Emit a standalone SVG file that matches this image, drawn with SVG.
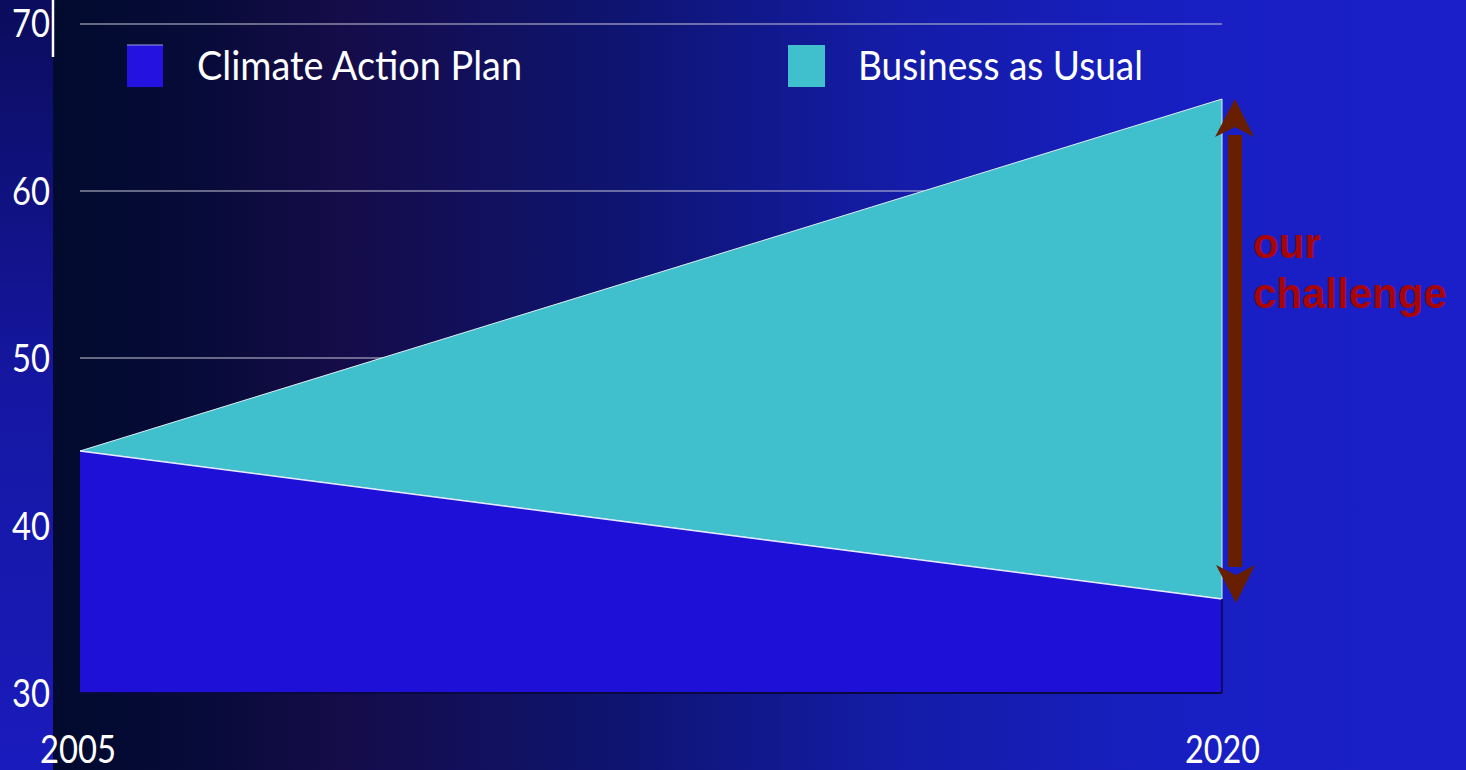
<svg xmlns="http://www.w3.org/2000/svg" width="1466" height="770" viewBox="0 0 1466 770">
<defs>
<linearGradient id="bg" x1="53" y1="0" x2="1466" y2="0" gradientUnits="userSpaceOnUse">
<stop offset="0" stop-color="#020a2e"/>
<stop offset="0.1" stop-color="#060b38"/>
<stop offset="0.2" stop-color="#150c48"/>
<stop offset="0.4" stop-color="#0e1470"/>
<stop offset="0.6" stop-color="#141ca8"/>
<stop offset="0.8" stop-color="#181fc2"/>
<stop offset="1" stop-color="#1b1fc9"/>
</linearGradient>
<linearGradient id="strip" x1="0" y1="0" x2="0" y2="770" gradientUnits="userSpaceOnUse">
<stop offset="0" stop-color="#0b0c5c"/>
<stop offset="0.5" stop-color="#1517a2"/>
<stop offset="1" stop-color="#1a1bbc"/>
</linearGradient>
<style>
.ax{font-family:Lato,"Open Sans",sans-serif;font-size:38px;fill:#ffffff}
.lg{font-family:Lato,"Open Sans",sans-serif;font-size:40px;fill:#ffffff}
.ch{font-family:"Liberation Sans",Arial,sans-serif;font-size:42px;font-weight:bold;fill:#a80606}
.grid{stroke:#c8c8d8;stroke-width:1}
</style>
</defs>
<rect x="0" y="0" width="1466" height="770" fill="url(#bg)"/>
<rect x="0" y="0" width="53" height="770" fill="url(#strip)"/>
<line x1="53" y1="0" x2="53" y2="57" stroke="#ffffff" stroke-width="2.5"/>
<g id="grid">
<line class="grid" x1="80" y1="24" x2="1222" y2="24"/>
<line class="grid" x1="80" y1="191" x2="1222" y2="191"/>
<line class="grid" x1="80" y1="358" x2="1222" y2="358"/>
</g>
<g id="area-bau">
<polygon points="80,451 1222,99 1222,599" fill="#40bfcc" stroke="#dfeff0" stroke-width="1"/>
</g>
<g id="area-cap">
<polygon points="80,451 1222,599 1222,693 80,693" fill="#1e10d6"/>
<line x1="80" y1="451" x2="1222" y2="599" stroke="#e8e8ff" stroke-width="1.5"/>
<line x1="80" y1="693" x2="1222" y2="693" stroke="#0a0840" stroke-width="2"/>
<line x1="1222" y1="599" x2="1222" y2="693" stroke="#0a0840" stroke-width="1.5"/>
</g>
<g id="y-axis">
<text class="ax" x="12" y="37" textLength="38" lengthAdjust="spacingAndGlyphs">70</text>
<text class="ax" x="12" y="205" textLength="38" lengthAdjust="spacingAndGlyphs">60</text>
<text class="ax" x="12" y="372" textLength="38" lengthAdjust="spacingAndGlyphs">50</text>
<text class="ax" x="12" y="540" textLength="38" lengthAdjust="spacingAndGlyphs">40</text>
<text class="ax" x="12" y="707" textLength="38" lengthAdjust="spacingAndGlyphs">30</text>
</g>
<g id="x-axis">
<text class="ax" x="40" y="763" textLength="76" lengthAdjust="spacingAndGlyphs">2005</text>
<text class="ax" x="1185" y="763" textLength="75" lengthAdjust="spacingAndGlyphs">2020</text>
</g>
<g id="legend">
<rect x="127" y="45" width="36" height="42" fill="#2412e0"/>
<line x1="127" y1="45" x2="163" y2="45" stroke="#9aa0e0" stroke-width="1"/>
<text class="lg" x="197" y="80" textLength="325" lengthAdjust="spacingAndGlyphs">Climate Action Plan</text>
<rect x="788" y="45" width="37" height="42" fill="#40bfcc"/>
<text class="lg" x="858" y="80" textLength="285" lengthAdjust="spacingAndGlyphs">Business as Usual</text>
</g>
<g id="connectors">
<rect x="1228" y="135" width="14" height="432" fill="#671f00"/>
<polygon points="1235,99 1254,137 1235,127 1215,137" fill="#671f00"/>
<polygon points="1236,603 1255,565 1236,575 1216,565" fill="#671f00"/>
</g>
<g id="label">
<text class="ch" x="1253" y="258">our</text>
<text class="ch" x="1253" y="308">challenge</text>
</g>
</svg>
